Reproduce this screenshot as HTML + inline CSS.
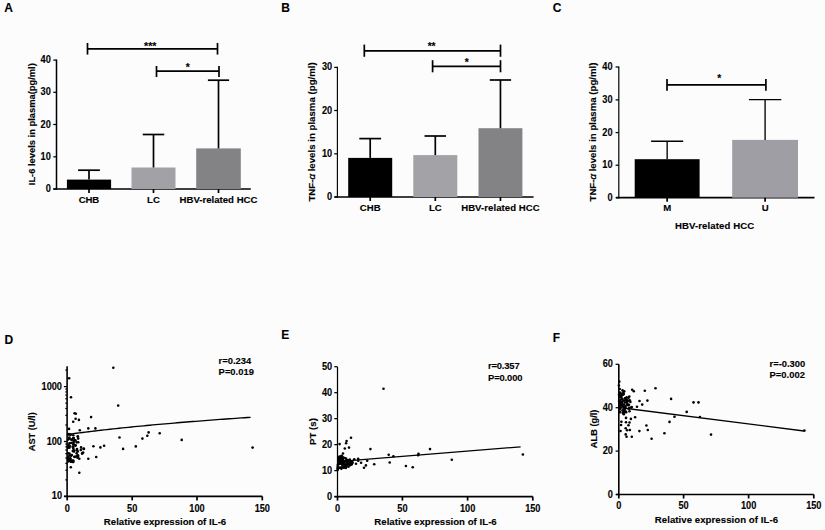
<!DOCTYPE html>
<html><head><meta charset="utf-8"><style>
html,body{margin:0;padding:0;background:#fcfcfc;}
svg{display:block;}
text{font-family:"Liberation Sans",sans-serif;font-weight:bold;fill:#000;stroke:#000;stroke-width:0.12px;}
</style></head><body>
<svg width="825" height="530" viewBox="0 0 825 530">
<rect width="825" height="530" fill="#fcfcfc"/>
<text x="4.20" y="12.10" font-size="12.72" text-anchor="start" textLength="8.67" lengthAdjust="spacingAndGlyphs">A</text>
<text x="281.30" y="12.10" font-size="12.72" text-anchor="start" textLength="8.67" lengthAdjust="spacingAndGlyphs">B</text>
<text x="552.70" y="11.90" font-size="12.72" text-anchor="start" textLength="8.67" lengthAdjust="spacingAndGlyphs">C</text>
<text x="4.50" y="344.20" font-size="12.72" text-anchor="start" textLength="8.67" lengthAdjust="spacingAndGlyphs">D</text>
<text x="281.30" y="338.90" font-size="12.72" text-anchor="start" textLength="8.0" lengthAdjust="spacingAndGlyphs">E</text>
<text x="552.70" y="341.50" font-size="12.72" text-anchor="start" textLength="7.33" lengthAdjust="spacingAndGlyphs">F</text>
<line x1="56.50" y1="59.50" x2="56.50" y2="189.80" stroke="#000" stroke-width="1.5"/>
<line x1="53.30" y1="60.10" x2="56.50" y2="60.10" stroke="#000" stroke-width="1.25"/>
<text x="50.80" y="63.10" font-size="10.00" text-anchor="end" textLength="10.23" lengthAdjust="spacingAndGlyphs">40</text>
<line x1="53.30" y1="92.30" x2="56.50" y2="92.30" stroke="#000" stroke-width="1.25"/>
<text x="50.80" y="95.30" font-size="10.00" text-anchor="end" textLength="10.23" lengthAdjust="spacingAndGlyphs">30</text>
<line x1="53.30" y1="124.50" x2="56.50" y2="124.50" stroke="#000" stroke-width="1.25"/>
<text x="50.80" y="127.50" font-size="10.00" text-anchor="end" textLength="10.23" lengthAdjust="spacingAndGlyphs">20</text>
<line x1="53.30" y1="156.80" x2="56.50" y2="156.80" stroke="#000" stroke-width="1.25"/>
<text x="50.80" y="159.80" font-size="10.00" text-anchor="end" textLength="10.23" lengthAdjust="spacingAndGlyphs">10</text>
<line x1="53.30" y1="189.00" x2="56.50" y2="189.00" stroke="#000" stroke-width="1.25"/>
<text x="50.80" y="192.00" font-size="10.00" text-anchor="end" textLength="5.12" lengthAdjust="spacingAndGlyphs">0</text>
<line x1="53.30" y1="189.00" x2="250.80" y2="189.00" stroke="#000" stroke-width="1.7"/>
<rect x="66.90" y="179.60" width="44.20" height="9.40" fill="#000"/>
<line x1="89.00" y1="170.20" x2="89.00" y2="179.60" stroke="#000" stroke-width="1.7"/>
<line x1="78.10" y1="170.20" x2="99.90" y2="170.20" stroke="#000" stroke-width="1.7"/>
<line x1="89.00" y1="189.00" x2="89.00" y2="193.00" stroke="#000" stroke-width="1.7"/>
<text x="89.00" y="203.10" font-size="9.60" text-anchor="middle" textLength="20.5" lengthAdjust="spacing">CHB</text>
<rect x="131.50" y="167.50" width="44.00" height="21.50" fill="#a2a2a6"/>
<line x1="153.50" y1="134.50" x2="153.50" y2="167.50" stroke="#000" stroke-width="1.7"/>
<line x1="142.75" y1="134.50" x2="164.25" y2="134.50" stroke="#000" stroke-width="1.7"/>
<line x1="153.50" y1="189.00" x2="153.50" y2="193.00" stroke="#000" stroke-width="1.7"/>
<text x="153.50" y="203.10" font-size="9.60" text-anchor="middle" textLength="12.8" lengthAdjust="spacing">LC</text>
<rect x="196.20" y="148.40" width="44.60" height="40.60" fill="#838385"/>
<line x1="218.50" y1="80.20" x2="218.50" y2="148.40" stroke="#000" stroke-width="1.7"/>
<line x1="207.90" y1="80.20" x2="229.10" y2="80.20" stroke="#000" stroke-width="1.7"/>
<line x1="218.50" y1="189.00" x2="218.50" y2="193.00" stroke="#000" stroke-width="1.7"/>
<text x="218.50" y="203.10" font-size="9.60" text-anchor="middle" textLength="77.9" lengthAdjust="spacing">HBV-related HCC</text>
<line x1="87.50" y1="48.90" x2="217.50" y2="48.90" stroke="#000" stroke-width="1.7"/>
<line x1="87.50" y1="43.00" x2="87.50" y2="54.60" stroke="#000" stroke-width="1.7"/>
<line x1="217.50" y1="43.00" x2="217.50" y2="54.60" stroke="#000" stroke-width="1.7"/>
<text x="150.20" y="49.80" font-size="10.80" text-anchor="middle" textLength="12.3" lengthAdjust="spacingAndGlyphs" stroke-width="0.05">***</text>
<line x1="156.50" y1="71.20" x2="219.00" y2="71.20" stroke="#000" stroke-width="1.7"/>
<line x1="156.50" y1="66.00" x2="156.50" y2="77.00" stroke="#000" stroke-width="1.7"/>
<line x1="219.00" y1="66.00" x2="219.00" y2="77.00" stroke="#000" stroke-width="1.7"/>
<text x="187.70" y="70.80" font-size="10.80" text-anchor="middle" textLength="3.96" lengthAdjust="spacingAndGlyphs" stroke-width="0.05">*</text>
<text transform="translate(34.50,185.20) rotate(-90)" x="0" y="0" font-size="9.10" textLength="122" lengthAdjust="spacingAndGlyphs">IL-6 levels in plasma(pg/ml)</text>
<line x1="337.40" y1="66.80" x2="337.40" y2="197.80" stroke="#000" stroke-width="1.15"/>
<line x1="334.20" y1="67.40" x2="337.40" y2="67.40" stroke="#000" stroke-width="1.25"/>
<text x="332.20" y="70.40" font-size="10.00" text-anchor="end" textLength="10.23" lengthAdjust="spacingAndGlyphs">30</text>
<line x1="334.20" y1="110.50" x2="337.40" y2="110.50" stroke="#000" stroke-width="1.25"/>
<text x="332.20" y="113.50" font-size="10.00" text-anchor="end" textLength="10.23" lengthAdjust="spacingAndGlyphs">20</text>
<line x1="334.20" y1="153.80" x2="337.40" y2="153.80" stroke="#000" stroke-width="1.25"/>
<text x="332.20" y="156.80" font-size="10.00" text-anchor="end" textLength="10.23" lengthAdjust="spacingAndGlyphs">10</text>
<line x1="334.20" y1="197.00" x2="337.40" y2="197.00" stroke="#000" stroke-width="1.25"/>
<text x="332.20" y="200.00" font-size="10.00" text-anchor="end" textLength="5.12" lengthAdjust="spacingAndGlyphs">0</text>
<line x1="334.50" y1="197.00" x2="533.60" y2="197.00" stroke="#000" stroke-width="1.7"/>
<rect x="348.20" y="157.90" width="44.00" height="39.10" fill="#000"/>
<line x1="370.20" y1="138.60" x2="370.20" y2="157.90" stroke="#000" stroke-width="1.7"/>
<line x1="359.30" y1="138.60" x2="381.10" y2="138.60" stroke="#000" stroke-width="1.7"/>
<line x1="370.20" y1="197.00" x2="370.20" y2="201.00" stroke="#000" stroke-width="1.7"/>
<text x="370.20" y="211.20" font-size="9.60" text-anchor="middle" textLength="20.9" lengthAdjust="spacing">CHB</text>
<rect x="413.30" y="155.10" width="44.00" height="41.90" fill="#a3a3a7"/>
<line x1="435.30" y1="136.00" x2="435.30" y2="155.10" stroke="#000" stroke-width="1.7"/>
<line x1="424.55" y1="136.00" x2="446.05" y2="136.00" stroke="#000" stroke-width="1.7"/>
<line x1="435.30" y1="197.00" x2="435.30" y2="201.00" stroke="#000" stroke-width="1.7"/>
<text x="435.30" y="211.20" font-size="9.60" text-anchor="middle" textLength="12.8" lengthAdjust="spacing">LC</text>
<rect x="478.50" y="128.20" width="43.90" height="68.80" fill="#838385"/>
<line x1="500.45" y1="80.00" x2="500.45" y2="128.20" stroke="#000" stroke-width="1.7"/>
<line x1="489.80" y1="80.00" x2="511.10" y2="80.00" stroke="#000" stroke-width="1.7"/>
<line x1="500.45" y1="197.00" x2="500.45" y2="201.00" stroke="#000" stroke-width="1.7"/>
<text x="500.45" y="211.20" font-size="9.60" text-anchor="middle" textLength="78.6" lengthAdjust="spacing">HBV-related HCC</text>
<line x1="364.30" y1="50.80" x2="500.50" y2="50.80" stroke="#000" stroke-width="1.7"/>
<line x1="364.30" y1="44.60" x2="364.30" y2="56.80" stroke="#000" stroke-width="1.7"/>
<line x1="500.50" y1="44.60" x2="500.50" y2="56.80" stroke="#000" stroke-width="1.7"/>
<text x="431.60" y="50.00" font-size="10.80" text-anchor="middle" textLength="7.93" lengthAdjust="spacingAndGlyphs" stroke-width="0.05">**</text>
<line x1="432.60" y1="66.30" x2="500.50" y2="66.30" stroke="#000" stroke-width="1.7"/>
<line x1="432.60" y1="60.20" x2="432.60" y2="72.30" stroke="#000" stroke-width="1.7"/>
<line x1="500.50" y1="60.20" x2="500.50" y2="72.30" stroke="#000" stroke-width="1.7"/>
<text x="466.75" y="66.40" font-size="10.80" text-anchor="middle" textLength="3.96" lengthAdjust="spacingAndGlyphs" stroke-width="0.05">*</text>
<text transform="translate(315.10,201.60) rotate(-90)" x="0" y="0" font-size="9.30" textLength="139.4" lengthAdjust="spacingAndGlyphs">TNF-<tspan font-weight="normal" font-style="italic" stroke-width="0.35">α</tspan> levels in plasma (pg/ml)</text>
<line x1="618.80" y1="66.40" x2="618.80" y2="198.50" stroke="#000" stroke-width="1.2"/>
<line x1="615.60" y1="67.00" x2="618.80" y2="67.00" stroke="#000" stroke-width="1.25"/>
<text x="612.50" y="70.00" font-size="10.00" text-anchor="end" textLength="10.23" lengthAdjust="spacingAndGlyphs">40</text>
<line x1="615.60" y1="99.90" x2="618.80" y2="99.90" stroke="#000" stroke-width="1.25"/>
<text x="612.50" y="102.90" font-size="10.00" text-anchor="end" textLength="10.23" lengthAdjust="spacingAndGlyphs">30</text>
<line x1="615.60" y1="132.60" x2="618.80" y2="132.60" stroke="#000" stroke-width="1.25"/>
<text x="612.50" y="135.60" font-size="10.00" text-anchor="end" textLength="10.23" lengthAdjust="spacingAndGlyphs">20</text>
<line x1="615.60" y1="165.20" x2="618.80" y2="165.20" stroke="#000" stroke-width="1.25"/>
<text x="612.50" y="168.20" font-size="10.00" text-anchor="end" textLength="10.23" lengthAdjust="spacingAndGlyphs">10</text>
<line x1="615.60" y1="197.70" x2="618.80" y2="197.70" stroke="#000" stroke-width="1.25"/>
<text x="612.50" y="200.70" font-size="10.00" text-anchor="end" textLength="5.12" lengthAdjust="spacingAndGlyphs">0</text>
<line x1="616.00" y1="197.70" x2="814.50" y2="197.70" stroke="#000" stroke-width="1.7"/>
<rect x="634.70" y="159.20" width="64.90" height="38.50" fill="#000"/>
<line x1="667.15" y1="141.20" x2="667.15" y2="159.20" stroke="#000" stroke-width="1.35"/>
<line x1="651.10" y1="141.20" x2="683.20" y2="141.20" stroke="#000" stroke-width="1.35"/>
<line x1="667.15" y1="197.70" x2="667.15" y2="201.70" stroke="#000" stroke-width="1.7"/>
<text x="667.15" y="211.30" font-size="9.60" text-anchor="middle" textLength="7.5" lengthAdjust="spacing">M</text>
<rect x="732.20" y="139.90" width="65.80" height="57.80" fill="#9e9ea4"/>
<line x1="765.10" y1="99.60" x2="765.10" y2="139.90" stroke="#000" stroke-width="1.35"/>
<line x1="748.90" y1="99.60" x2="781.30" y2="99.60" stroke="#000" stroke-width="1.35"/>
<line x1="765.10" y1="197.70" x2="765.10" y2="201.70" stroke="#000" stroke-width="1.7"/>
<text x="765.10" y="211.30" font-size="9.60" text-anchor="middle" textLength="5.8" lengthAdjust="spacing">U</text>
<line x1="667.00" y1="84.90" x2="765.90" y2="84.90" stroke="#000" stroke-width="1.7"/>
<line x1="667.00" y1="79.00" x2="667.00" y2="90.80" stroke="#000" stroke-width="1.7"/>
<line x1="765.90" y1="79.00" x2="765.90" y2="90.80" stroke="#000" stroke-width="1.7"/>
<text x="719.15" y="81.70" font-size="10.80" text-anchor="middle" textLength="3.96" lengthAdjust="spacingAndGlyphs" stroke-width="0.05">*</text>
<text x="714.60" y="229.10" font-size="9.60" text-anchor="middle" textLength="79.4" lengthAdjust="spacing">HBV-related HCC</text>
<text transform="translate(596.30,201.50) rotate(-90)" x="0" y="0" font-size="9.30" textLength="139" lengthAdjust="spacingAndGlyphs">TNF-<tspan font-weight="normal" font-style="italic" stroke-width="0.35">α</tspan> levels in plasma (pg/ml)</text>
<line x1="67.10" y1="366.20" x2="67.10" y2="497.20" stroke="#000" stroke-width="1.6"/>
<line x1="63.90" y1="386.60" x2="67.10" y2="386.60" stroke="#000" stroke-width="1.25"/>
<text x="62.00" y="389.60" font-size="10.00" text-anchor="end" textLength="20.47" lengthAdjust="spacingAndGlyphs">1000</text>
<line x1="63.90" y1="441.50" x2="67.10" y2="441.50" stroke="#000" stroke-width="1.25"/>
<text x="62.00" y="444.50" font-size="10.00" text-anchor="end" textLength="15.35" lengthAdjust="spacingAndGlyphs">100</text>
<line x1="63.90" y1="496.40" x2="67.10" y2="496.40" stroke="#000" stroke-width="1.25"/>
<text x="62.00" y="499.40" font-size="10.00" text-anchor="end" textLength="10.23" lengthAdjust="spacingAndGlyphs">10</text>
<line x1="65.30" y1="479.87" x2="67.10" y2="479.87" stroke="#000" stroke-width="1.2"/>
<line x1="65.30" y1="470.21" x2="67.10" y2="470.21" stroke="#000" stroke-width="1.2"/>
<line x1="65.30" y1="463.35" x2="67.10" y2="463.35" stroke="#000" stroke-width="1.2"/>
<line x1="65.30" y1="458.03" x2="67.10" y2="458.03" stroke="#000" stroke-width="1.2"/>
<line x1="65.30" y1="453.68" x2="67.10" y2="453.68" stroke="#000" stroke-width="1.2"/>
<line x1="65.30" y1="450.00" x2="67.10" y2="450.00" stroke="#000" stroke-width="1.2"/>
<line x1="65.30" y1="446.82" x2="67.10" y2="446.82" stroke="#000" stroke-width="1.2"/>
<line x1="65.30" y1="444.01" x2="67.10" y2="444.01" stroke="#000" stroke-width="1.2"/>
<line x1="65.30" y1="424.97" x2="67.10" y2="424.97" stroke="#000" stroke-width="1.2"/>
<line x1="65.30" y1="415.31" x2="67.10" y2="415.31" stroke="#000" stroke-width="1.2"/>
<line x1="65.30" y1="408.45" x2="67.10" y2="408.45" stroke="#000" stroke-width="1.2"/>
<line x1="65.30" y1="403.13" x2="67.10" y2="403.13" stroke="#000" stroke-width="1.2"/>
<line x1="65.30" y1="398.78" x2="67.10" y2="398.78" stroke="#000" stroke-width="1.2"/>
<line x1="65.30" y1="395.10" x2="67.10" y2="395.10" stroke="#000" stroke-width="1.2"/>
<line x1="65.30" y1="391.92" x2="67.10" y2="391.92" stroke="#000" stroke-width="1.2"/>
<line x1="65.30" y1="389.11" x2="67.10" y2="389.11" stroke="#000" stroke-width="1.2"/>
<line x1="65.30" y1="370.07" x2="67.10" y2="370.07" stroke="#000" stroke-width="1.2"/>
<line x1="64.00" y1="496.40" x2="262.30" y2="496.40" stroke="#000" stroke-width="1.7"/>
<line x1="67.20" y1="496.40" x2="67.20" y2="500.40" stroke="#000" stroke-width="1.7"/>
<text x="67.20" y="512.00" font-size="10.00" text-anchor="middle" textLength="5.12" lengthAdjust="spacingAndGlyphs">0</text>
<line x1="132.20" y1="496.40" x2="132.20" y2="500.40" stroke="#000" stroke-width="1.7"/>
<text x="132.20" y="512.00" font-size="10.00" text-anchor="middle" textLength="10.23" lengthAdjust="spacingAndGlyphs">50</text>
<line x1="197.00" y1="496.40" x2="197.00" y2="500.40" stroke="#000" stroke-width="1.7"/>
<text x="197.00" y="512.00" font-size="10.00" text-anchor="middle" textLength="15.35" lengthAdjust="spacingAndGlyphs">100</text>
<line x1="262.30" y1="496.40" x2="262.30" y2="500.40" stroke="#000" stroke-width="1.7"/>
<text x="262.30" y="512.00" font-size="10.00" text-anchor="middle" textLength="15.35" lengthAdjust="spacingAndGlyphs">150</text>
<text x="165.00" y="524.80" font-size="9.60" text-anchor="middle" textLength="122.4" lengthAdjust="spacing">Relative expression of IL-6</text>
<text x="218.60" y="364.00" font-size="9.40" text-anchor="start" textLength="32.6" lengthAdjust="spacing">r=0.234</text>
<text x="218.60" y="375.30" font-size="9.40" text-anchor="start" textLength="35.3" lengthAdjust="spacing">P=0.019</text>
<text transform="translate(35.20,451.20) rotate(-90)" x="0" y="0" font-size="8.90" textLength="38.9" lengthAdjust="spacingAndGlyphs">AST (U/l)</text>
<polyline fill="none" stroke="#000" stroke-width="1.35" points="67.20,434.52 70.26,434.10 73.31,433.69 76.37,433.29 79.43,432.89 82.49,432.50 85.54,432.12 88.60,431.74 91.66,431.37 94.71,431.01 97.77,430.65 100.83,430.29 103.89,429.94 106.94,429.60 110.00,429.26 113.06,428.92 116.11,428.59 119.17,428.26 122.23,427.94 125.29,427.63 128.34,427.31 131.40,427.00 134.46,426.70 137.51,426.40 140.57,426.10 143.63,425.81 146.69,425.51 149.74,425.23 152.80,424.94 155.86,424.66 158.92,424.39 161.97,424.11 165.03,423.84 168.09,423.58 171.14,423.31 174.20,423.05 177.26,422.79 180.32,422.54 183.37,422.28 186.43,422.03 189.49,421.78 192.54,421.54 195.60,421.30 198.66,421.05 201.72,420.82 204.77,420.58 207.83,420.35 210.89,420.12 213.94,419.89 217.00,419.66 220.06,419.44 223.12,419.21 226.17,418.99 229.23,418.77 232.29,418.56 235.34,418.34 238.40,418.13 241.46,417.92 244.52,417.71 247.57,417.50 250.63,417.30"/>
<circle cx="113.30" cy="367.70" r="1.3"/>
<circle cx="69.10" cy="378.30" r="1.3"/>
<circle cx="71.00" cy="397.30" r="1.3"/>
<circle cx="118.20" cy="405.60" r="1.3"/>
<circle cx="91.10" cy="417.10" r="1.3"/>
<circle cx="119.50" cy="437.50" r="1.3"/>
<circle cx="123.10" cy="448.90" r="1.3"/>
<circle cx="135.80" cy="446.40" r="1.3"/>
<circle cx="142.40" cy="438.60" r="1.3"/>
<circle cx="147.30" cy="435.80" r="1.3"/>
<circle cx="148.60" cy="432.40" r="1.3"/>
<circle cx="159.70" cy="433.20" r="1.3"/>
<circle cx="181.70" cy="439.90" r="1.3"/>
<circle cx="252.60" cy="447.60" r="1.3"/>
<circle cx="100.40" cy="447.40" r="1.3"/>
<circle cx="104.10" cy="445.80" r="1.3"/>
<circle cx="93.40" cy="446.20" r="1.3"/>
<circle cx="88.30" cy="428.40" r="1.3"/>
<circle cx="95.40" cy="428.40" r="1.3"/>
<circle cx="79.80" cy="430.30" r="1.3"/>
<circle cx="69.00" cy="428.90" r="1.3"/>
<circle cx="73.20" cy="421.80" r="1.3"/>
<circle cx="78.90" cy="419.90" r="1.3"/>
<circle cx="75.60" cy="418.70" r="1.3"/>
<circle cx="74.60" cy="413.30" r="1.3"/>
<circle cx="75.80" cy="413.80" r="1.3"/>
<circle cx="83.80" cy="448.80" r="1.3"/>
<circle cx="82.10" cy="453.60" r="1.3"/>
<circle cx="74.70" cy="457.00" r="1.3"/>
<circle cx="79.30" cy="458.70" r="1.3"/>
<circle cx="88.30" cy="458.70" r="1.3"/>
<circle cx="96.20" cy="457.00" r="1.3"/>
<circle cx="70.80" cy="460.40" r="1.3"/>
<circle cx="71.90" cy="461.50" r="1.3"/>
<circle cx="70.80" cy="467.20" r="1.3"/>
<circle cx="79.30" cy="472.80" r="1.3"/>
<circle cx="68.80" cy="434.00" r="1.3"/>
<circle cx="73.30" cy="435.20" r="1.3"/>
<circle cx="77.80" cy="436.30" r="1.3"/>
<circle cx="78.20" cy="438.60" r="1.3"/>
<circle cx="78.20" cy="442.30" r="1.3"/>
<circle cx="69.50" cy="438.60" r="1.3"/>
<circle cx="71.80" cy="440.00" r="1.3"/>
<circle cx="74.00" cy="440.80" r="1.3"/>
<circle cx="71.00" cy="443.00" r="1.3"/>
<circle cx="73.30" cy="444.60" r="1.3"/>
<circle cx="75.60" cy="445.30" r="1.3"/>
<circle cx="68.80" cy="445.30" r="1.3"/>
<circle cx="69.50" cy="447.60" r="1.3"/>
<circle cx="73.30" cy="448.40" r="1.3"/>
<circle cx="77.00" cy="449.10" r="1.3"/>
<circle cx="83.90" cy="448.70" r="1.3"/>
<circle cx="80.80" cy="449.90" r="1.3"/>
<circle cx="74.00" cy="451.40" r="1.3"/>
<circle cx="77.80" cy="451.40" r="1.3"/>
<circle cx="82.30" cy="453.30" r="1.3"/>
<circle cx="69.50" cy="453.60" r="1.3"/>
<circle cx="71.80" cy="455.10" r="1.3"/>
<circle cx="74.40" cy="456.70" r="1.3"/>
<circle cx="69.50" cy="458.90" r="1.3"/>
<circle cx="71.80" cy="460.80" r="1.3"/>
<circle cx="73.30" cy="461.90" r="1.3"/>
<circle cx="77.97" cy="455.25" r="1.3"/>
<circle cx="68.46" cy="446.97" r="1.3"/>
<circle cx="83.09" cy="452.47" r="1.3"/>
<circle cx="75.51" cy="440.40" r="1.3"/>
<circle cx="76.70" cy="450.22" r="1.3"/>
<circle cx="68.21" cy="439.50" r="1.3"/>
<circle cx="72.47" cy="460.49" r="1.3"/>
<circle cx="77.88" cy="436.80" r="1.3"/>
<circle cx="68.03" cy="459.14" r="1.3"/>
<circle cx="71.35" cy="439.46" r="1.3"/>
<circle cx="72.63" cy="461.84" r="1.3"/>
<circle cx="76.63" cy="453.33" r="1.3"/>
<circle cx="71.28" cy="461.23" r="1.3"/>
<circle cx="73.78" cy="437.98" r="1.3"/>
<circle cx="70.33" cy="434.95" r="1.3"/>
<circle cx="72.82" cy="451.09" r="1.3"/>
<circle cx="68.05" cy="453.34" r="1.3"/>
<circle cx="73.41" cy="442.30" r="1.3"/>
<circle cx="81.10" cy="447.42" r="1.3"/>
<circle cx="73.05" cy="447.44" r="1.3"/>
<circle cx="68.29" cy="456.63" r="1.3"/>
<circle cx="73.86" cy="450.36" r="1.3"/>
<circle cx="68.15" cy="434.40" r="1.3"/>
<circle cx="70.89" cy="461.66" r="1.3"/>
<circle cx="71.14" cy="455.67" r="1.3"/>
<circle cx="73.51" cy="443.64" r="1.3"/>
<circle cx="76.40" cy="456.27" r="1.3"/>
<circle cx="69.73" cy="455.45" r="1.3"/>
<circle cx="68.59" cy="461.37" r="1.3"/>
<circle cx="69.46" cy="443.22" r="1.3"/>
<circle cx="73.44" cy="460.73" r="1.3"/>
<circle cx="76.72" cy="442.37" r="1.3"/>
<circle cx="73.07" cy="438.32" r="1.3"/>
<circle cx="69.25" cy="437.47" r="1.3"/>
<circle cx="70.58" cy="434.46" r="1.3"/>
<circle cx="83.79" cy="449.01" r="1.3"/>
<circle cx="74.49" cy="440.12" r="1.3"/>
<circle cx="77.50" cy="457.79" r="1.3"/>
<circle cx="75.29" cy="445.65" r="1.3"/>
<circle cx="68.89" cy="460.48" r="1.3"/>
<circle cx="68.52" cy="447.81" r="1.3"/>
<circle cx="78.09" cy="456.64" r="1.3"/>
<circle cx="69.71" cy="446.04" r="1.3"/>
<circle cx="70.39" cy="458.34" r="1.3"/>
<circle cx="72.72" cy="446.59" r="1.3"/>
<line x1="337.50" y1="366.90" x2="337.50" y2="497.40" stroke="#000" stroke-width="1.25"/>
<line x1="334.30" y1="366.70" x2="337.50" y2="366.70" stroke="#000" stroke-width="1.25"/>
<text x="332.20" y="369.70" font-size="10.00" text-anchor="end" textLength="10.23" lengthAdjust="spacingAndGlyphs">50</text>
<line x1="334.30" y1="392.68" x2="337.50" y2="392.68" stroke="#000" stroke-width="1.25"/>
<text x="332.20" y="395.68" font-size="10.00" text-anchor="end" textLength="10.23" lengthAdjust="spacingAndGlyphs">40</text>
<line x1="334.30" y1="418.66" x2="337.50" y2="418.66" stroke="#000" stroke-width="1.25"/>
<text x="332.20" y="421.66" font-size="10.00" text-anchor="end" textLength="10.23" lengthAdjust="spacingAndGlyphs">30</text>
<line x1="334.30" y1="444.64" x2="337.50" y2="444.64" stroke="#000" stroke-width="1.25"/>
<text x="332.20" y="447.64" font-size="10.00" text-anchor="end" textLength="10.23" lengthAdjust="spacingAndGlyphs">20</text>
<line x1="334.30" y1="470.62" x2="337.50" y2="470.62" stroke="#000" stroke-width="1.25"/>
<text x="332.20" y="473.62" font-size="10.00" text-anchor="end" textLength="10.23" lengthAdjust="spacingAndGlyphs">10</text>
<line x1="334.30" y1="496.60" x2="337.50" y2="496.60" stroke="#000" stroke-width="1.25"/>
<text x="332.20" y="499.60" font-size="10.00" text-anchor="end" textLength="5.12" lengthAdjust="spacingAndGlyphs">0</text>
<line x1="334.50" y1="496.60" x2="532.80" y2="496.60" stroke="#000" stroke-width="1.7"/>
<line x1="337.50" y1="496.60" x2="337.50" y2="500.60" stroke="#000" stroke-width="1.7"/>
<text x="337.50" y="511.90" font-size="10.00" text-anchor="middle" textLength="5.12" lengthAdjust="spacingAndGlyphs">0</text>
<line x1="402.40" y1="496.60" x2="402.40" y2="500.60" stroke="#000" stroke-width="1.7"/>
<text x="402.40" y="511.90" font-size="10.00" text-anchor="middle" textLength="10.23" lengthAdjust="spacingAndGlyphs">50</text>
<line x1="467.60" y1="496.60" x2="467.60" y2="500.60" stroke="#000" stroke-width="1.7"/>
<text x="467.60" y="511.90" font-size="10.00" text-anchor="middle" textLength="15.35" lengthAdjust="spacingAndGlyphs">100</text>
<line x1="532.80" y1="496.60" x2="532.80" y2="500.60" stroke="#000" stroke-width="1.7"/>
<text x="532.80" y="511.90" font-size="10.00" text-anchor="middle" textLength="15.35" lengthAdjust="spacingAndGlyphs">150</text>
<text x="435.50" y="524.60" font-size="9.60" text-anchor="middle" textLength="122.4" lengthAdjust="spacing">Relative expression of IL-6</text>
<text x="488.00" y="369.40" font-size="9.40" text-anchor="start" textLength="31.6" lengthAdjust="spacing">r=0.357</text>
<text x="488.00" y="380.70" font-size="9.40" text-anchor="start" textLength="34.5" lengthAdjust="spacing">P=0.000</text>
<text transform="translate(315.50,444.90) rotate(-90)" x="0" y="0" font-size="8.90" textLength="26.8" lengthAdjust="spacingAndGlyphs">PT (s)</text>
<line x1="337.50" y1="461.70" x2="520.60" y2="446.80" stroke="#000" stroke-width="1.35"/>
<circle cx="383.50" cy="388.80" r="1.3"/>
<circle cx="339.60" cy="444.10" r="1.3"/>
<circle cx="351.00" cy="437.80" r="1.3"/>
<circle cx="346.60" cy="441.00" r="1.3"/>
<circle cx="346.10" cy="443.30" r="1.3"/>
<circle cx="344.80" cy="448.50" r="1.3"/>
<circle cx="349.00" cy="447.60" r="1.3"/>
<circle cx="343.00" cy="453.50" r="1.3"/>
<circle cx="341.60" cy="455.80" r="1.3"/>
<circle cx="370.40" cy="449.10" r="1.3"/>
<circle cx="388.70" cy="454.80" r="1.3"/>
<circle cx="393.40" cy="456.20" r="1.3"/>
<circle cx="389.70" cy="462.50" r="1.3"/>
<circle cx="405.90" cy="466.00" r="1.3"/>
<circle cx="412.70" cy="467.20" r="1.3"/>
<circle cx="418.50" cy="453.70" r="1.3"/>
<circle cx="418.10" cy="455.30" r="1.3"/>
<circle cx="430.00" cy="449.10" r="1.3"/>
<circle cx="451.80" cy="459.80" r="1.3"/>
<circle cx="522.90" cy="454.50" r="1.3"/>
<circle cx="354.20" cy="459.30" r="1.3"/>
<circle cx="358.20" cy="458.80" r="1.3"/>
<circle cx="358.20" cy="460.80" r="1.3"/>
<circle cx="367.20" cy="460.80" r="1.3"/>
<circle cx="356.00" cy="463.80" r="1.3"/>
<circle cx="361.10" cy="462.80" r="1.3"/>
<circle cx="374.20" cy="464.20" r="1.3"/>
<circle cx="365.90" cy="465.40" r="1.3"/>
<circle cx="364.00" cy="467.80" r="1.3"/>
<circle cx="341.19" cy="463.83" r="1.3"/>
<circle cx="343.23" cy="464.74" r="1.3"/>
<circle cx="337.70" cy="468.31" r="1.3"/>
<circle cx="341.52" cy="459.09" r="1.3"/>
<circle cx="350.47" cy="462.79" r="1.3"/>
<circle cx="345.61" cy="466.84" r="1.3"/>
<circle cx="349.25" cy="464.54" r="1.3"/>
<circle cx="350.92" cy="462.73" r="1.3"/>
<circle cx="343.62" cy="467.75" r="1.3"/>
<circle cx="339.61" cy="458.82" r="1.3"/>
<circle cx="352.46" cy="462.17" r="1.3"/>
<circle cx="347.21" cy="460.11" r="1.3"/>
<circle cx="345.36" cy="461.40" r="1.3"/>
<circle cx="342.94" cy="464.45" r="1.3"/>
<circle cx="351.52" cy="464.21" r="1.3"/>
<circle cx="350.39" cy="464.28" r="1.3"/>
<circle cx="341.92" cy="456.47" r="1.3"/>
<circle cx="338.87" cy="467.75" r="1.3"/>
<circle cx="343.86" cy="457.81" r="1.3"/>
<circle cx="342.06" cy="467.26" r="1.3"/>
<circle cx="348.64" cy="460.56" r="1.3"/>
<circle cx="342.30" cy="456.68" r="1.3"/>
<circle cx="340.56" cy="461.74" r="1.3"/>
<circle cx="338.16" cy="468.78" r="1.3"/>
<circle cx="351.40" cy="461.28" r="1.3"/>
<circle cx="344.64" cy="463.46" r="1.3"/>
<circle cx="347.48" cy="464.61" r="1.3"/>
<circle cx="346.17" cy="464.99" r="1.3"/>
<circle cx="352.08" cy="463.26" r="1.3"/>
<circle cx="344.18" cy="466.52" r="1.3"/>
<circle cx="341.18" cy="460.11" r="1.3"/>
<circle cx="343.94" cy="464.37" r="1.3"/>
<circle cx="337.81" cy="464.92" r="1.3"/>
<circle cx="347.22" cy="462.63" r="1.3"/>
<circle cx="348.03" cy="460.89" r="1.3"/>
<circle cx="348.46" cy="466.79" r="1.3"/>
<circle cx="341.39" cy="462.48" r="1.3"/>
<circle cx="346.69" cy="460.40" r="1.3"/>
<circle cx="343.14" cy="460.28" r="1.3"/>
<circle cx="343.22" cy="464.61" r="1.3"/>
<circle cx="342.16" cy="461.27" r="1.3"/>
<circle cx="346.32" cy="466.75" r="1.3"/>
<circle cx="342.31" cy="458.90" r="1.3"/>
<circle cx="340.40" cy="462.16" r="1.3"/>
<circle cx="342.49" cy="460.61" r="1.3"/>
<circle cx="350.42" cy="462.21" r="1.3"/>
<circle cx="342.72" cy="465.45" r="1.3"/>
<circle cx="351.22" cy="462.40" r="1.3"/>
<circle cx="340.99" cy="457.35" r="1.3"/>
<circle cx="345.71" cy="458.42" r="1.3"/>
<circle cx="340.35" cy="459.76" r="1.3"/>
<circle cx="350.01" cy="465.32" r="1.3"/>
<circle cx="350.00" cy="460.78" r="1.3"/>
<circle cx="339.51" cy="459.97" r="1.3"/>
<circle cx="349.80" cy="459.65" r="1.3"/>
<circle cx="342.87" cy="461.88" r="1.3"/>
<circle cx="344.01" cy="461.77" r="1.3"/>
<circle cx="337.57" cy="469.93" r="1.3"/>
<circle cx="347.78" cy="463.44" r="1.3"/>
<circle cx="341.98" cy="460.72" r="1.3"/>
<circle cx="341.03" cy="456.54" r="1.3"/>
<circle cx="346.62" cy="459.89" r="1.3"/>
<circle cx="351.44" cy="464.33" r="1.3"/>
<circle cx="337.70" cy="466.90" r="1.3"/>
<circle cx="340.16" cy="460.09" r="1.3"/>
<circle cx="347.77" cy="463.53" r="1.3"/>
<circle cx="346.99" cy="460.72" r="1.3"/>
<circle cx="341.41" cy="468.68" r="1.3"/>
<circle cx="344.90" cy="467.47" r="1.3"/>
<circle cx="342.95" cy="458.52" r="1.3"/>
<circle cx="345.79" cy="468.00" r="1.3"/>
<circle cx="340.16" cy="467.61" r="1.3"/>
<circle cx="338.27" cy="459.65" r="1.3"/>
<circle cx="341.66" cy="463.57" r="1.3"/>
<circle cx="344.06" cy="462.74" r="1.3"/>
<circle cx="338.35" cy="457.44" r="1.3"/>
<circle cx="339.43" cy="456.55" r="1.3"/>
<circle cx="338.83" cy="463.18" r="1.3"/>
<circle cx="342.40" cy="460.31" r="1.3"/>
<circle cx="342.94" cy="465.40" r="1.3"/>
<circle cx="346.59" cy="461.02" r="1.3"/>
<circle cx="340.46" cy="460.53" r="1.3"/>
<circle cx="339.42" cy="464.00" r="1.3"/>
<circle cx="348.60" cy="461.32" r="1.3"/>
<circle cx="338.74" cy="458.23" r="1.3"/>
<circle cx="343.29" cy="464.75" r="1.3"/>
<circle cx="349.63" cy="461.32" r="1.3"/>
<circle cx="349.92" cy="465.03" r="1.3"/>
<circle cx="344.19" cy="461.20" r="1.3"/>
<circle cx="345.19" cy="466.25" r="1.3"/>
<line x1="618.80" y1="364.30" x2="618.80" y2="495.30" stroke="#000" stroke-width="1.6"/>
<line x1="615.60" y1="364.30" x2="618.80" y2="364.30" stroke="#000" stroke-width="1.25"/>
<text x="612.90" y="367.30" font-size="10.00" text-anchor="end" textLength="10.23" lengthAdjust="spacingAndGlyphs">60</text>
<line x1="615.60" y1="407.70" x2="618.80" y2="407.70" stroke="#000" stroke-width="1.25"/>
<text x="612.90" y="410.70" font-size="10.00" text-anchor="end" textLength="10.23" lengthAdjust="spacingAndGlyphs">40</text>
<line x1="615.60" y1="451.10" x2="618.80" y2="451.10" stroke="#000" stroke-width="1.25"/>
<text x="612.90" y="454.10" font-size="10.00" text-anchor="end" textLength="10.23" lengthAdjust="spacingAndGlyphs">20</text>
<line x1="615.60" y1="494.50" x2="618.80" y2="494.50" stroke="#000" stroke-width="1.25"/>
<text x="612.90" y="497.50" font-size="10.00" text-anchor="end" textLength="5.12" lengthAdjust="spacingAndGlyphs">0</text>
<line x1="616.00" y1="494.50" x2="813.80" y2="494.50" stroke="#000" stroke-width="1.7"/>
<line x1="618.80" y1="494.50" x2="618.80" y2="498.50" stroke="#000" stroke-width="1.7"/>
<text x="618.80" y="509.30" font-size="10.00" text-anchor="middle" textLength="5.12" lengthAdjust="spacingAndGlyphs">0</text>
<line x1="683.60" y1="494.50" x2="683.60" y2="498.50" stroke="#000" stroke-width="1.7"/>
<text x="683.60" y="509.30" font-size="10.00" text-anchor="middle" textLength="10.23" lengthAdjust="spacingAndGlyphs">50</text>
<line x1="748.60" y1="494.50" x2="748.60" y2="498.50" stroke="#000" stroke-width="1.7"/>
<text x="748.60" y="509.30" font-size="10.00" text-anchor="middle" textLength="15.35" lengthAdjust="spacingAndGlyphs">100</text>
<line x1="813.80" y1="494.50" x2="813.80" y2="498.50" stroke="#000" stroke-width="1.7"/>
<text x="813.80" y="509.30" font-size="10.00" text-anchor="middle" textLength="15.35" lengthAdjust="spacingAndGlyphs">150</text>
<text x="716.40" y="522.60" font-size="9.60" text-anchor="middle" textLength="123.2" lengthAdjust="spacing">Relative expression of IL-6</text>
<text x="769.50" y="367.00" font-size="9.40" text-anchor="start" textLength="35.7" lengthAdjust="spacing">r=-0.300</text>
<text x="769.50" y="378.30" font-size="9.40" text-anchor="start" textLength="35.4" lengthAdjust="spacing">P=0.002</text>
<text transform="translate(597.20,448.20) rotate(-90)" x="0" y="0" font-size="8.90" textLength="38.6" lengthAdjust="spacingAndGlyphs">ALB (g/l)</text>
<line x1="619.00" y1="407.50" x2="804.00" y2="431.00" stroke="#000" stroke-width="1.4"/>
<circle cx="619.30" cy="381.60" r="1.3"/>
<circle cx="618.90" cy="385.50" r="1.3"/>
<circle cx="619.70" cy="389.00" r="1.3"/>
<circle cx="622.50" cy="390.40" r="1.3"/>
<circle cx="624.20" cy="391.20" r="1.3"/>
<circle cx="632.20" cy="389.80" r="1.3"/>
<circle cx="633.80" cy="391.20" r="1.3"/>
<circle cx="644.80" cy="390.80" r="1.3"/>
<circle cx="655.50" cy="388.30" r="1.3"/>
<circle cx="629.30" cy="396.60" r="1.3"/>
<circle cx="625.80" cy="398.80" r="1.3"/>
<circle cx="639.50" cy="401.00" r="1.3"/>
<circle cx="647.40" cy="400.60" r="1.3"/>
<circle cx="642.20" cy="404.60" r="1.3"/>
<circle cx="637.00" cy="406.80" r="1.3"/>
<circle cx="631.70" cy="407.00" r="1.3"/>
<circle cx="671.10" cy="398.90" r="1.3"/>
<circle cx="693.50" cy="402.40" r="1.3"/>
<circle cx="698.50" cy="402.40" r="1.3"/>
<circle cx="686.70" cy="411.90" r="1.3"/>
<circle cx="674.50" cy="416.70" r="1.3"/>
<circle cx="699.90" cy="417.00" r="1.3"/>
<circle cx="669.50" cy="421.90" r="1.3"/>
<circle cx="664.40" cy="433.20" r="1.3"/>
<circle cx="711.00" cy="434.60" r="1.3"/>
<circle cx="804.40" cy="430.60" r="1.3"/>
<circle cx="629.50" cy="411.30" r="1.3"/>
<circle cx="623.80" cy="414.20" r="1.3"/>
<circle cx="626.00" cy="417.90" r="1.3"/>
<circle cx="630.90" cy="418.90" r="1.3"/>
<circle cx="635.10" cy="417.20" r="1.3"/>
<circle cx="621.40" cy="421.70" r="1.3"/>
<circle cx="626.00" cy="422.20" r="1.3"/>
<circle cx="629.50" cy="422.50" r="1.3"/>
<circle cx="621.00" cy="425.00" r="1.3"/>
<circle cx="628.50" cy="425.30" r="1.3"/>
<circle cx="646.40" cy="425.50" r="1.3"/>
<circle cx="625.70" cy="428.30" r="1.3"/>
<circle cx="627.10" cy="430.20" r="1.3"/>
<circle cx="629.90" cy="430.00" r="1.3"/>
<circle cx="620.50" cy="431.00" r="1.3"/>
<circle cx="647.80" cy="430.00" r="1.3"/>
<circle cx="639.40" cy="431.10" r="1.3"/>
<circle cx="625.70" cy="434.40" r="1.3"/>
<circle cx="626.60" cy="436.80" r="1.3"/>
<circle cx="631.80" cy="436.80" r="1.3"/>
<circle cx="651.60" cy="438.70" r="1.3"/>
<circle cx="621.40" cy="395.20" r="1.3"/>
<circle cx="620.20" cy="396.90" r="1.3"/>
<circle cx="621.90" cy="398.60" r="1.3"/>
<circle cx="625.90" cy="398.90" r="1.3"/>
<circle cx="629.80" cy="400.30" r="1.3"/>
<circle cx="630.40" cy="402.00" r="1.3"/>
<circle cx="619.70" cy="401.40" r="1.3"/>
<circle cx="621.40" cy="402.50" r="1.3"/>
<circle cx="624.80" cy="402.50" r="1.3"/>
<circle cx="627.00" cy="403.70" r="1.3"/>
<circle cx="628.10" cy="404.80" r="1.3"/>
<circle cx="619.70" cy="404.80" r="1.3"/>
<circle cx="622.50" cy="406.00" r="1.3"/>
<circle cx="625.30" cy="407.60" r="1.3"/>
<circle cx="628.70" cy="408.80" r="1.3"/>
<circle cx="620.20" cy="408.80" r="1.3"/>
<circle cx="622.50" cy="410.50" r="1.3"/>
<circle cx="625.30" cy="411.00" r="1.3"/>
<circle cx="620.20" cy="412.20" r="1.3"/>
<circle cx="623.10" cy="413.30" r="1.3"/>
<circle cx="623.21" cy="394.62" r="1.3"/>
<circle cx="625.97" cy="399.78" r="1.3"/>
<circle cx="619.75" cy="403.18" r="1.3"/>
<circle cx="619.49" cy="401.41" r="1.3"/>
<circle cx="619.91" cy="393.18" r="1.3"/>
<circle cx="624.52" cy="410.84" r="1.3"/>
<circle cx="620.61" cy="396.36" r="1.3"/>
<circle cx="626.50" cy="400.52" r="1.3"/>
<circle cx="620.88" cy="393.83" r="1.3"/>
<circle cx="623.01" cy="410.59" r="1.3"/>
<circle cx="621.35" cy="404.96" r="1.3"/>
<circle cx="627.31" cy="399.94" r="1.3"/>
<circle cx="619.77" cy="395.94" r="1.3"/>
<circle cx="627.85" cy="401.26" r="1.3"/>
<circle cx="623.08" cy="405.05" r="1.3"/>
<circle cx="624.89" cy="398.19" r="1.3"/>
<circle cx="629.33" cy="407.78" r="1.3"/>
<circle cx="622.17" cy="404.79" r="1.3"/>
<circle cx="625.83" cy="412.00" r="1.3"/>
<circle cx="628.48" cy="397.91" r="1.3"/>
<circle cx="624.44" cy="409.17" r="1.3"/>
<circle cx="620.98" cy="402.74" r="1.3"/>
<circle cx="619.51" cy="407.04" r="1.3"/>
<circle cx="628.94" cy="404.75" r="1.3"/>
<circle cx="628.04" cy="405.26" r="1.3"/>
<circle cx="626.54" cy="401.95" r="1.3"/>
<circle cx="625.16" cy="406.94" r="1.3"/>
<circle cx="619.79" cy="407.84" r="1.3"/>
<circle cx="624.02" cy="407.05" r="1.3"/>
<circle cx="619.29" cy="402.08" r="1.3"/>
<circle cx="621.18" cy="393.81" r="1.3"/>
<circle cx="619.77" cy="409.44" r="1.3"/>
<circle cx="620.68" cy="396.94" r="1.3"/>
<circle cx="624.08" cy="411.91" r="1.3"/>
<circle cx="620.05" cy="401.78" r="1.3"/>
<circle cx="626.14" cy="412.20" r="1.3"/>
<circle cx="622.62" cy="400.97" r="1.3"/>
<circle cx="623.66" cy="412.22" r="1.3"/>
<circle cx="621.29" cy="396.57" r="1.3"/>
<circle cx="622.03" cy="402.64" r="1.3"/>
<circle cx="626.66" cy="397.31" r="1.3"/>
<circle cx="619.05" cy="401.05" r="1.3"/>
<circle cx="623.80" cy="404.59" r="1.3"/>
<circle cx="631.39" cy="407.57" r="1.3"/>
<circle cx="625.70" cy="405.82" r="1.3"/>
<circle cx="624.10" cy="400.58" r="1.3"/>
<circle cx="620.35" cy="406.22" r="1.3"/>
<circle cx="619.81" cy="392.62" r="1.3"/>
<circle cx="621.71" cy="394.90" r="1.3"/>
<circle cx="623.42" cy="392.26" r="1.3"/>
<circle cx="619.00" cy="394.63" r="1.3"/>
<circle cx="620.32" cy="399.73" r="1.3"/>
<circle cx="619.33" cy="411.98" r="1.3"/>
<circle cx="622.28" cy="399.34" r="1.3"/>
<circle cx="623.73" cy="393.95" r="1.3"/>
</svg>
</body></html>
